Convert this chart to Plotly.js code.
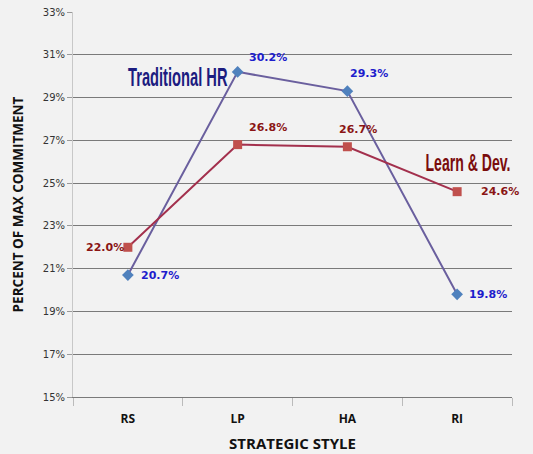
<!DOCTYPE html>
<html><head><meta charset="utf-8">
<script src="https://cdn.plot.ly/plotly-3.0.1.min.js"></script>
<style>html,body{margin:0;padding:0;background:#f2f2f2;}#c{width:533px;height:454px;}</style>
</head><body><div id="c"></div>
<script>
const categories = ["RS", "LP", "HA", "RI"];
const traditionalHR = [0.207, 0.302, 0.293, 0.198];
const learnDev = [0.220, 0.268, 0.267, 0.246];
const yTickVals = [0.15, 0.17, 0.19, 0.21, 0.23, 0.25, 0.27, 0.29, 0.31, 0.33];

const blueLabelShift = [[32, 0], [30, 14], [22, 18], [31, 0]];
const redLabelShift = [[-23, 0], [30, 17], [11, 17], [43, 0]];

const annotations = [];
categories.forEach((c, i) => {
  annotations.push({x: c, y: traditionalHR[i], text: (traditionalHR[i]*100).toFixed(1) + '%',
    showarrow: false, xshift: blueLabelShift[i][0], yshift: blueLabelShift[i][1],
    font: {family: 'DejaVu Sans', size: 11, color: '#1d1dcc', weight: 'bold'}});
  annotations.push({x: c, y: learnDev[i], text: (learnDev[i]*100).toFixed(1) + '%',
    showarrow: false, xshift: redLabelShift[i][0], yshift: redLabelShift[i][1],
    font: {family: 'DejaVu Sans', size: 11, color: '#8a1515', weight: 'bold'}});
});
annotations.push({xref: 'paper', yref: 'paper', x: 0.239, y: 0.830, text: 'Traditional HR', showarrow: false,
  font: {family: 'Liberation Sans', size: 16, color: '#1c1c80', weight: 'bold'}});
annotations.push({xref: 'paper', yref: 'paper', x: 0.900, y: 0.608, text: 'Learn &amp; Dev.', showarrow: false,
  font: {family: 'Liberation Sans', size: 16, color: '#7a0c0c', weight: 'bold'}});

const data = [
  {x: categories, y: traditionalHR, type: 'scatter', mode: 'lines+markers', name: 'Traditional HR',
   line: {color: '#6a5f9e', width: 2}, marker: {symbol: 'diamond', size: 9, color: '#4f81bd'}},
  {x: categories, y: learnDev, type: 'scatter', mode: 'lines+markers', name: 'Learn & Dev.',
   line: {color: '#a3304d', width: 2}, marker: {symbol: 'square', size: 9, color: '#c0504d'}}
];

const layout = {
  width: 533, height: 454,
  margin: {l: 73, r: 21, t: 12, b: 57},
  paper_bgcolor: '#f2f2f2', plot_bgcolor: '#f2f2f2',
  showlegend: false,
  xaxis: {type: 'category', range: [-0.5, 3.5], tickson: 'boundaries', ticks: 'outside', ticklen: 8,
    tickcolor: '#bbbbbb', showgrid: false, showline: true, linecolor: '#7a7a7a', linewidth: 1,
    ticklabelstandoff: 11,
    tickfont: {family: 'Open Sans', size: 12, color: '#111', weight: 'bold'},
    title: {text: 'STRATEGIC STYLE', font: {family: 'Open Sans', size: 15, color: '#111', weight: 'bold'}, standoff: 12}},
  yaxis: {range: [0.15, 0.33], tickvals: yTickVals, tickformat: '.0%', ticks: 'outside', ticklen: 5,
    tickcolor: '#999', showgrid: true, gridcolor: '#7a7a7a', gridwidth: 1, zeroline: false,
    showline: true, linecolor: '#c8c8c8', linewidth: 1,
    tickfont: {family: 'DejaVu Sans', size: 10, color: '#333'},
    title: {text: 'PERCENT OF MAX COMMITMENT', font: {family: 'Open Sans', size: 13.5, color: '#111', weight: 'bold'}, standoff: 16}},
  annotations: annotations
};
Plotly.newPlot('c', data, layout, {displayModeBar: false, staticPlot: true}).then(() => {
  // stretch the two series name labels to a tall, narrow bold look, centred on target points
  const targets = {'Traditional HR': {w: 100, sy: 1.62, cx: 178, cy: 77}, 'Learn & Dev.': {w: 85, sy: 1.5, cx: 468, cy: 163}};
  document.querySelectorAll('.annotation-text').forEach(t => {
    const tg = targets[t.textContent];
    if (!tg) return;
    const bb = t.getBBox();
    const r = t.getBoundingClientRect();
    const ox = r.left - bb.x, oy = r.top - bb.y;
    const bcx = bb.x + bb.width / 2, bcy = bb.y + bb.height / 2;
    const sx = tg.w / bb.width;
    const tcx = tg.cx - ox, tcy = tg.cy - oy;
    t.setAttribute('transform', 'translate(' + tcx + ',' + tcy + ') scale(' + sx + ',' + tg.sy + ') translate(' + (-bcx) + ',' + (-bcy) + ')');
  });
});
</script></body></html>
